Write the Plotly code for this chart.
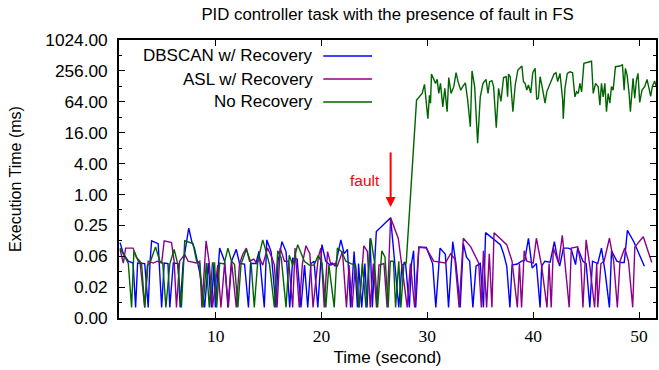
import math
import plotly.graph_objects as go

# ---------------- data ----------------
blue_t = [0.97, 1.28, 1.75, 2.2, 2.44, 2.63, 3.3, 3.63, 3.8, 3.95, 4.57, 4.9, 5.14, 5.5, 5.67, 6.0, 6.45, 6.65,
          6.93, 7.46, 7.77, 8.0, 8.5, 8.96, 9.3, 9.6, 9.84, 9.97, 10.38, 10.85, 11.16, 11.5, 11.95, 12.26, 12.73,
          13.1, 13.3, 13.8, 14.1, 14.6, 14.83, 15.24, 15.7, 15.9, 16.27, 16.65, 17.0, 17.28, 17.7, 18.06, 18.4,
          18.7, 19.0, 19.3, 19.65, 20.04, 20.4, 20.8, 21.0, 21.3, 21.83, 22.14, 22.45, 22.75, 23.08, 23.4, 23.5,
          23.8, 24.1, 24.3, 24.59, 24.8, 25.18, 26.53, 27.3, 27.6, 27.94, 28.3, 28.5, 28.7, 28.9, 29.2, 29.9,
          30.5, 30.8, 31.2, 31.7, 32.0, 32.4, 32.7, 33.1, 33.4, 33.7, 34.0, 34.3, 34.6, 35.0, 35.3, 35.5, 36.9,
          37.2, 37.5, 37.8, 38.0, 38.5, 38.9, 39.2, 39.55, 39.9, 40.3, 40.65, 40.8, 41.1, 41.6, 42.0, 42.3, 42.5,
          42.85, 43.3, 43.6, 44.0, 44.2, 44.7, 45.0, 45.35, 45.6, 46.1, 46.45, 46.8, 47.2, 47.4, 47.9, 48.3,
          48.6, 48.9, 49.5, 50.5]
blue_v = [0.115, 0.07, 0.05, 0.046, 0.0063, 0.046, 0.045, 0.0063, 0.046, 0.125, 0.11, 0.0063, 0.046, 0.045,
          0.0063, 0.046, 0.045, 0.0063, 0.046, 0.22, 0.115, 0.09, 0.03, 0.0063, 0.046, 0.0063, 0.044, 0.0063,
          0.09, 0.05, 0.0063, 0.05, 0.085, 0.045, 0.044, 0.0063, 0.045, 0.045, 0.078, 0.0063, 0.13, 0.077,
          0.0063, 0.05, 0.12, 0.077, 0.0063, 0.057, 0.055, 0.0063, 0.042, 0.0063, 0.045, 0.05, 0.0063, 0.105,
          0.05, 0.042, 0.046, 0.04, 0.13, 0.07, 0.085, 0.0063, 0.077, 0.0063, 0.045, 0.0063, 0.045, 0.0063,
          0.14, 0.0063, 0.19, 0.35, 0.0063, 0.042, 0.046, 0.0063, 0.045, 0.08, 0.0063, 0.095, 0.093, 0.045,
          0.0063, 0.09, 0.068, 0.0063, 0.12, 0.045, 0.0063, 0.11, 0.06, 0.05, 0.0063, 0.04, 0.045, 0.0063,
          0.18, 0.105, 0.07, 0.04, 0.0063, 0.042, 0.044, 0.05, 0.052, 0.14, 0.037, 0.045, 0.0063, 0.04, 0.05,
          0.048, 0.12, 0.055, 0.04, 0.09, 0.09, 0.085, 0.043, 0.09, 0.05, 0.045, 0.0063, 0.05, 0.045, 0.09,
          0.03, 0.0063, 0.08, 0.05, 0.047, 0.047, 0.2, 0.12, 0.04]

purple_t = [0.97, 1.28, 1.5, 2.2, 2.5, 2.85, 3.3, 3.63, 4.1, 4.5, 4.9, 5.14, 5.83, 6.08, 6.3, 6.6, 7.08, 7.4,
            8.18, 8.5, 8.7, 9.1, 9.4, 9.7, 10.2, 10.5, 10.85, 11.2, 11.5, 11.95, 12.26, 12.57, 12.9, 13.2, 13.6,
            13.9, 14.14, 14.45, 14.9, 15.3, 15.55, 15.8, 16.1, 16.5, 16.9, 17.28, 17.5, 17.9, 18.2, 18.53, 18.9,
            19.2, 19.7, 19.94, 20.26, 20.57, 20.9, 21.2, 21.5, 21.98, 22.36, 22.6, 22.9, 23.2, 23.55, 24.0,
            24.34, 24.6, 24.9, 25.2, 25.43, 25.9, 26.2, 26.53, 27.25, 28.1, 28.4, 28.8, 29.2, 29.9, 30.6, 31.0,
            31.7, 32.2, 32.6, 33.0, 33.4, 34.1, 34.4, 34.85, 35.1, 35.3, 35.6, 35.85, 36.1, 36.3, 37.5, 38.0,
            38.5, 38.7, 38.9, 39.15, 39.4, 40.0, 40.3, 40.8, 41.3, 41.5, 41.7, 41.9, 42.4, 42.75, 43.4, 43.6,
            44.2, 44.5, 44.7, 45.0, 45.35, 45.8, 46.0, 46.1, 46.4, 46.7, 47.2, 47.6, 47.95, 48.2, 48.65, 49.0,
            49.4, 49.6, 50.4, 51.2]
purple_v = [0.085, 0.046, 0.09, 0.09, 0.06, 0.05, 0.0063, 0.05, 0.046, 0.05, 0.046, 0.125, 0.115, 0.05,
            0.0063, 0.05, 0.068, 0.05, 0.046, 0.05, 0.0063, 0.125, 0.046, 0.0063, 0.042, 0.0063, 0.046, 0.0063,
            0.05, 0.0063, 0.045, 0.068, 0.09, 0.05, 0.055, 0.045, 0.057, 0.042, 0.09, 0.06, 0.042, 0.0063, 0.09,
            0.05, 0.05, 0.0063, 0.09, 0.0063, 0.045, 0.1, 0.07, 0.0063, 0.06, 0.09, 0.0063, 0.077, 0.042, 0.045,
            0.04, 0.077, 0.0063, 0.042, 0.0063, 0.045, 0.0063, 0.1, 0.077, 0.0063, 0.045, 0.0063, 0.042, 0.045,
            0.0063, 0.35, 0.14, 0.0063, 0.045, 0.0063, 0.093, 0.09, 0.05, 0.048, 0.046, 0.07, 0.055, 0.0063,
            0.14, 0.095, 0.07, 0.046, 0.0063, 0.08, 0.0063, 0.07, 0.0063, 0.18, 0.105, 0.05, 0.0063, 0.045,
            0.0063, 0.08, 0.05, 0.046, 0.14, 0.04, 0.0063, 0.045, 0.0063, 0.09, 0.046, 0.16, 0.0063, 0.09, 0.095,
            0.046, 0.0063, 0.13, 0.04, 0.0063, 0.045, 0.0063, 0.045, 0.05, 0.14, 0.05, 0.0063, 0.05, 0.09, 0.05,
            0.0063, 0.095, 0.15, 0.047]

green_t = [0.97, 1.2, 1.44, 1.75, 2.06, 2.28, 2.69, 3.0, 3.3, 3.55, 3.79, 4.32, 4.73, 5.0, 5.3, 5.67, 6.08,
           6.4, 6.77, 7.08, 7.86, 8.2, 8.5, 8.81, 9.12, 9.4, 9.7, 9.9, 10.1, 10.38, 10.8, 11.16, 11.5, 11.79,
           12.1, 12.4, 12.9, 13.35, 13.65, 13.98, 14.45, 14.77, 15.1, 15.55, 15.87, 16.2, 16.65, 16.95, 17.28,
           17.75, 18.38, 18.85, 19.3, 19.7, 20.05, 20.41, 20.7, 21.2, 21.5, 21.9, 22.3, 22.77, 23.2, 23.55,
           23.87, 24.2, 24.66, 25.0, 25.3, 25.7, 26.0, 26.3, 26.5, 26.8, 27.0, 27.3, 27.5, 27.8, 28.0,
           28.98, 29.51, 29.73, 30.05, 30.2, 30.3, 30.39, 30.77, 30.93, 31.08, 31.24, 31.46, 31.65, 31.87,
           32.02, 32.24, 32.5, 32.71, 32.9, 33.15, 33.34, 33.59, 33.81, 34.06, 34.22, 34.47, 34.75, 35.0,
           35.26, 35.54, 35.73, 35.88, 36.1, 36.26, 36.51, 36.73, 36.95, 37.2, 37.45, 37.58, 37.67, 37.83,
           38.08, 38.3, 38.55, 38.93, 39.08, 39.24, 39.39, 39.55, 39.77, 39.96, 40.18, 40.33, 40.49, 40.65,
           40.81, 40.96, 41.12, 41.28, 41.53, 41.75, 41.97, 42.15, 42.31, 42.53, 42.72, 42.78, 42.84, 43.0,
           43.22, 43.47, 43.72, 43.94, 44.1, 44.26, 44.41, 44.57, 44.79, 45.2, 45.51, 45.67, 45.89, 46.14,
           46.3, 46.45, 46.61, 46.77, 46.92, 47.08, 47.24, 47.39, 47.55, 47.77, 48.18, 48.43, 48.59, 48.71,
           48.87, 49.06, 49.18, 49.43, 49.59, 49.75, 49.9, 50.06, 50.28, 50.53, 50.75, 50.94, 51.1, 51.25,
           51.47, 51.63]
green_v = [0.09, 0.075, 0.06, 0.045, 0.0063, 0.08, 0.05, 0.046, 0.0063, 0.042, 0.046, 0.095, 0.05, 0.046,
           0.0063, 0.044, 0.085, 0.046, 0.0063, 0.125, 0.11, 0.05, 0.045, 0.0063, 0.046, 0.0063, 0.046, 0.046,
           0.0063, 0.046, 0.044, 0.09, 0.05, 0.043, 0.0063, 0.044, 0.085, 0.046, 0.0063, 0.05, 0.13, 0.077,
           0.042, 0.0063, 0.08, 0.057, 0.0063, 0.065, 0.042, 0.105, 0.05, 0.042, 0.042, 0.065, 0.045, 0.0063,
           0.042, 0.0063, 0.09, 0.077, 0.05, 0.045, 0.042, 0.0063, 0.045, 0.0063, 0.14, 0.05, 0.0063, 0.08,
           0.06, 0.0063, 0.05, 0.05, 0.0063, 0.05, 0.0063, 0.048, 0.045,
           69, 93, 140, 30, 86, 60, 222, 146, 175, 93, 146, 51, 117, 41, 190, 93, 126, 236, 158, 108, 126,
           150, 69, 21, 255, 126, 10, 80, 146, 175, 93, 158, 165, 126, 20, 117, 65, 190, 197, 80, 222, 197,
           41, 136, 265, 318, 158, 146, 108, 136, 95, 236, 287, 71, 75, 197, 136, 86, 60, 100, 136, 183, 222,
           236, 158, 229, 80, 71, 30, 117, 229, 245, 236, 80, 100, 93, 146, 100, 359, 385, 395, 93, 146, 126,
           55, 146, 80, 146, 41, 93, 60, 126, 108, 309, 318, 335, 108, 287, 212, 93, 41, 183, 75, 170, 229,
           62, 108, 126, 175, 117, 82, 126, 163, 126]

series_names = ["DBSCAN w/ Recovery", "ASL w/ Recovery", "No Recovery"]
series_colors = ["#0000ff", "#8b008b", "#006400"]

y_tickvals = [1 / 256, 1 / 64, 1 / 16, 0.25, 1, 4, 16, 64, 256, 1024]
y_ticktext = ["0.00", "0.02", "0.06", "0.25", "1.00", "4.00", "16.00", "64.00", "256.00", "1024.00"]
y_minorvals = [1 / 128, 1 / 32, 1 / 8, 0.5, 2, 8, 32, 128, 512]
x_tickvals = [10, 20, 30, 40, 50]

fault_time = 26.53
fault_tip_value = 0.57

# ---------------- figure ----------------
W, H = 659, 370
ML, MR, MT, MB = 119, 1, 40, 52
PW, PH = W - ML - MR, H - MT - MB

fig = go.Figure()
for t, v, name, col in zip([blue_t, purple_t, green_t], [blue_v, purple_v, green_v], series_names, series_colors):
    fig.add_trace(go.Scatter(x=t, y=v, mode="lines", name=name,
                             line=dict(color=col, width=1.4), showlegend=False))

SANS = "Liberation Sans, Arial, sans-serif"
SERIF = "Liberation Serif, Times New Roman, serif"

def px2paper_x(px):
    return (px - ML) / PW

def py2paper_y(py):
    return (H - MB - py) / PH

# custom gnuplot-style legend (text right, sample line to the right)
legend_rows = [56, 79, 102]
shapes = []
annotations = []
for name, col, py in zip(series_names, series_colors, legend_rows):
    annotations.append(dict(xref="paper", yref="paper", x=px2paper_x(316), y=py2paper_y(py),
                            text=name, showarrow=False, xanchor="right", yanchor="middle",
                            font=dict(family=SANS, size=17, color="#000")))
    shapes.append(dict(type="line", xref="paper", yref="paper",
                       x0=px2paper_x(324), x1=px2paper_x(373), y0=py2paper_y(py), y1=py2paper_y(py),
                       line=dict(color=col, width=1.4)))

# fault arrow
annotations.append(dict(x=fault_time, y=math.log10(fault_tip_value), xref="x", yref="y",
                        showarrow=True, ax=0, ay=-56, arrowhead=2, arrowsize=1, arrowwidth=2,
                        arrowcolor="#ff0000", text=""))
annotations.append(dict(xref="paper", yref="paper", x=px2paper_x(366), y=py2paper_y(180),
                        text="fault", showarrow=False, xanchor="center", yanchor="middle",
                        font=dict(family=SANS, size=15.5, color="#ff0000")))

fig.update_layout(
    width=W, height=H,
    margin=dict(l=ML, r=MR, t=MT, b=MB, pad=0),
    paper_bgcolor="white", plot_bgcolor="white",
    title=dict(text="PID controller task with the presence of fault in FS",
               x=0.5, xref="paper", y=1 - 14 / H, yref="container", yanchor="middle",
               font=dict(family=SANS, size=16.8, color="#000")),
    shapes=shapes, annotations=annotations,
    xaxis=dict(range=[0.871, 51.6], tickvals=x_tickvals, ticks="inside", ticklen=6,
               tickcolor="#000", mirror="ticks", showline=True, linecolor="#000", linewidth=1.6,
               showgrid=False, zeroline=False, ticklabelstandoff=1,
               tickfont=dict(family=SERIF, size=17.5, color="#000"),
               title=dict(text="Time (second)", font=dict(family=SANS, size=17, color="#000"), standoff=6)),
    yaxis=dict(type="log", range=[math.log10(1 / 256), math.log10(1024)],
               tickvals=y_tickvals, ticktext=y_ticktext, ticks="inside", ticklen=6,
               tickcolor="#000", mirror="ticks", showline=True, linecolor="#000", linewidth=1.6,
               showgrid=False, zeroline=False, ticklabelstandoff=6,
               minor=dict(tickvals=y_minorvals, ticks="inside", ticklen=3, tickcolor="#000"),
               tickfont=dict(family=SANS, size=17.3, color="#000"),
               title=dict(text="Execution Time (ms)", font=dict(family=SANS, size=16, color="#000"), standoff=20)),
)

fig.write_html("out.html")
